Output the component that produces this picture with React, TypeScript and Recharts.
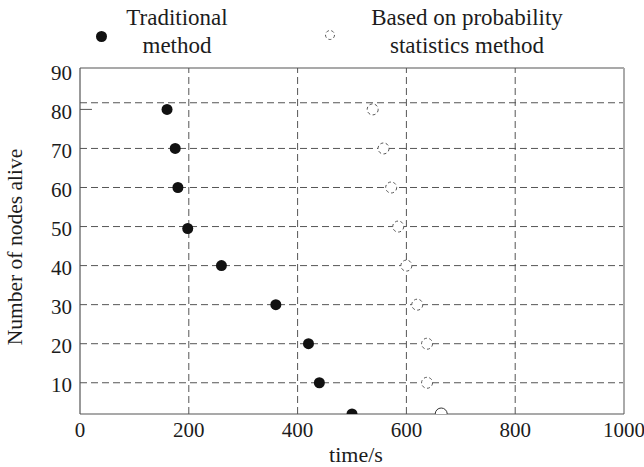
import React from "react";
import {
  ScatterChart,
  Scatter,
  XAxis,
  YAxis,
  ReferenceLine,
  Legend,
} from "recharts";

// values
const traditionalTime = [160, 175, 180, 198, 260, 360, 420, 440, 500];
const traditionalNodes = [80, 70, 60, 49.5, 40, 30, 20, 10, 2];
const probabilityTime = [538, 558, 572, 585, 600, 620, 638, 638, 664];
const probabilityNodes = [80, 70, 60, 50, 40, 30, 20, 10, 2];

const xTicks = [0, 200, 400, 600, 800, 1000];
const yTicks = [10, 20, 30, 40, 50, 60, 70, 80, 90];
const xGrid = [200, 400, 600, 800];
const yGrid = [10, 20, 30, 40, 50, 60, 70, 81.7];
const yDomain: [number, number] = [2, 90.6];

const traditionalData = traditionalTime.map((t, i) => ({ time: t, nodes: traditionalNodes[i] }));
const probabilityData = probabilityTime.map((t, i) => ({ time: t, nodes: probabilityNodes[i] }));

const FONT = "Liberation Serif";
const INK = "#1c1c1c";
const GRID = "#555";

function FilledDot(props: any) {
  const { cx, cy } = props;
  if (cx == null || cy == null) return null;
  return <circle cx={cx} cy={cy} r={5.5} fill="#111" />;
}

function OpenDot(props: any) {
  const { cx, cy, index } = props;
  if (cx == null || cy == null) return null;
  const last = index === probabilityData.length - 1;
  return (
    <circle
      cx={cx}
      cy={cy}
      r={last ? 6 : 5.5}
      fill="#fff"
      stroke={last ? "#333" : "#555"}
      strokeWidth={1}
      strokeDasharray={last ? undefined : "3 2.5"}
    />
  );
}

function TopLegend() {
  return (
    <svg width={644} height={60} style={{ display: "block" }}>
      <g style={{ fontFamily: FONT, fontSize: 23 }} fill={INK} textAnchor="middle">
        <circle cx={101.5} cy={36.5} r={5.5} fill="#111" />
        <text x={177} y={25}>Traditional</text>
        <text x={177} y={53}>method</text>
        <circle cx={330} cy={35} r={4.5} fill="#fff" stroke="#555" strokeDasharray="3 2.5" />
        <text x={467} y={25}>Based on probability</text>
        <text x={467} y={53}>statistics method</text>
      </g>
    </svg>
  );
}

export default function App() {
  return (
    <div style={{ width: 644, height: 467, background: "#fff", fontFamily: FONT }}>
      <style>{"body{margin:0} .recharts-text{font-family:'Liberation Serif'}"}</style>
      <ScatterChart width={644} height={467} margin={{ top: 8, right: 20, left: 0, bottom: 0 }}>
        <Legend
          verticalAlign="top"
          content={() => <TopLegend />}
          wrapperStyle={{ top: 0, left: 0, width: 644, height: 60 }}
        />
        <XAxis
          type="number"
          dataKey="time"
          domain={[0, 1000]}
          ticks={xTicks}
          interval={0}
          height={53}
          tickLine={false}
          axisLine={{ stroke: GRID, strokeWidth: 1.2 }}
          tick={{ fill: INK, fontSize: 21 }}
          label={{ value: "time/s", position: "insideBottom", offset: 5, dx: 4, fill: INK, fontSize: 22 }}
        />
        <YAxis
          type="number"
          dataKey="nodes"
          domain={yDomain}
          allowDataOverflow
          ticks={yTicks}
          interval={0}
          width={80}
          tickLine={false}
          axisLine={{ stroke: GRID, strokeWidth: 1.2 }}
          tick={{ fill: INK, fontSize: 21, dy: 2 }}
          label={{
            value: "Number of nodes alive",
            angle: -90,
            position: "insideLeft",
            offset: 14,
            dy: 6,
            fill: INK,
            fontSize: 21.5,
            style: { textAnchor: "middle" },
          }}
        />
        {yGrid.map((v) => (
          <ReferenceLine key={"h" + v} y={v} stroke={GRID} strokeDasharray="7 4" />
        ))}
        {xGrid.map((v) => (
          <ReferenceLine key={"v" + v} x={v} stroke={GRID} strokeDasharray="7 4" />
        ))}
        <ReferenceLine y={yDomain[1]} stroke={GRID} strokeWidth={1.2} />
        <ReferenceLine x={1000} stroke="#aaa" strokeWidth={2} />
        <ReferenceLine segment={[{ x: 0, y: 80 }, { x: 22, y: 80 }]} stroke={GRID} />
        <Scatter data={traditionalData} shape={<FilledDot />} isAnimationActive={false} />
        <Scatter data={probabilityData} shape={<OpenDot />} isAnimationActive={false} />
      </ScatterChart>
    </div>
  );
}
